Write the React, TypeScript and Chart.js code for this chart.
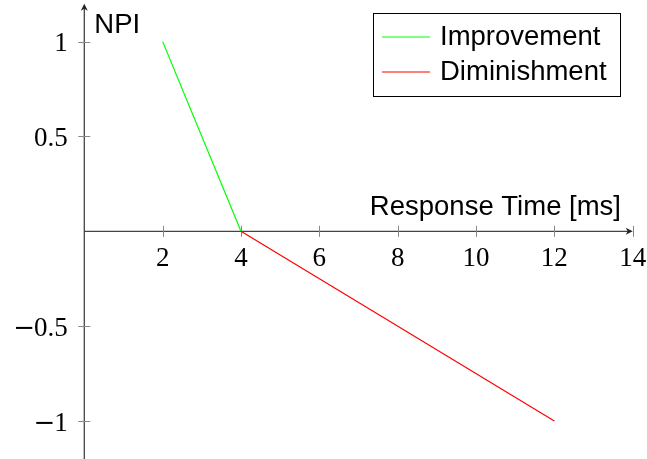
import React, { useEffect, useRef } from 'react';
import { Chart, registerables } from 'chart.js';

Chart.register(...registerables);

const improvementX = [2, 4];
const improvementY = [1, 0];
const diminishmentX = [4, 12];
const diminishmentY = [0, -1];
const seriesLabels = ['Improvement', 'Diminishment'];
const seriesColors = ['#00ff00', '#ff0000'];
const xTicks = [2, 4, 6, 8, 10, 12, 14];
const yTicks = [-1, -0.5, 0.5, 1];
const xRange = [0, 14];
const yRange = [-1.2, 1.2];
const xTitle = 'Response Time [ms]';
const yTitle = 'NPI';

const fmt = (v: number) => (v < 0 ? '\u2212' + String(Math.abs(v)) : String(v));

const TICK_FONT = '27px "Liberation Serif"';
const MINUS_FONT = '26px "DejaVu Serif"';
const SANS_FONT = '27.5px "Liberation Sans"';

const middleAxes = {
  id: 'middleAxes',
  beforeDatasetsDraw(chart: any) {
    const { ctx, scales } = chart;
    const x = scales.x;
    const y = scales.y;
    const x0 = x.getPixelForValue(0);
    const y0 = y.getPixelForValue(0);
    const xr = x.right;
    const yt = y.top;
    ctx.save();
    // axis lines
    ctx.strokeStyle = '#444';
    ctx.lineWidth = 1.3;
    ctx.beginPath();
    ctx.moveTo(x.left, y0);
    ctx.lineTo(xr - 4, y0);
    ctx.moveTo(x0, y.bottom + 2);
    ctx.lineTo(x0, yt + 4);
    ctx.stroke();
    // arrow heads
    ctx.fillStyle = '#222';
    ctx.beginPath();
    ctx.moveTo(xr, y0);
    ctx.lineTo(xr - 7, y0 - 3.5);
    ctx.lineTo(xr - 5, y0);
    ctx.lineTo(xr - 7, y0 + 3.5);
    ctx.closePath();
    ctx.fill();
    ctx.beginPath();
    ctx.moveTo(x0, yt);
    ctx.lineTo(x0 - 3.5, yt + 7);
    ctx.lineTo(x0, yt + 5);
    ctx.lineTo(x0 + 3.5, yt + 7);
    ctx.closePath();
    ctx.fill();
    // ticks
    ctx.strokeStyle = '#888';
    ctx.lineWidth = 1;
    ctx.beginPath();
    x.ticks.forEach((t: any) => {
      const px = Math.round(x.getPixelForValue(t.value)) + 0.5;
      ctx.moveTo(px, y0 - 5.5);
      ctx.lineTo(px, y0 + 5.5);
    });
    y.ticks.forEach((t: any) => {
      const py = Math.round(y.getPixelForValue(t.value)) + 0.5;
      ctx.moveTo(x0 - 6, py);
      ctx.lineTo(x0 + 6, py);
    });
    ctx.stroke();
    // tick labels
    ctx.fillStyle = '#000';
    ctx.font = TICK_FONT;
    ctx.textBaseline = 'alphabetic';
    ctx.textAlign = 'center';
    x.ticks.forEach((t: any) => {
      ctx.fillText(t.label, x.getPixelForValue(t.value), y0 + 34.5);
    });
    y.ticks.forEach((t: any) => {
      const label: string = t.label;
      const py = y.getPixelForValue(t.value) + 9.5;
      const right = x0 - 16.5;
      const neg = label.startsWith('\u2212');
      const body = neg ? label.slice(1) : label;
      ctx.font = TICK_FONT;
      ctx.textAlign = 'right';
      ctx.fillText(body, right, py);
      if (neg) {
        const w = ctx.measureText(body).width;
        ctx.font = MINUS_FONT;
        ctx.fillText('\u2212', right - w + 1, py);
      }
    });
    // axis titles
    ctx.font = SANS_FONT;
    ctx.textAlign = 'left';
    ctx.fillText(yTitle, x0 + 10, 33);
    ctx.textAlign = 'right';
    ctx.fillText(xTitle, 621, 215);
    ctx.restore();
  },
  afterDraw(chart: any) {
    const { ctx } = chart;
    ctx.save();
    ctx.strokeStyle = '#000';
    ctx.lineWidth = 1;
    ctx.fillStyle = '#fff';
    ctx.fillRect(373.5, 13.5, 247, 83);
    ctx.strokeRect(373.5, 13.5, 247, 83);
    ctx.font = SANS_FONT;
    ctx.textAlign = 'left';
    ctx.textBaseline = 'alphabetic';
    chart.data.datasets.forEach((ds: any, i: number) => {
      const ly = 37 + 35 * i;
      ctx.strokeStyle = ds.borderColor;
      ctx.lineWidth = 1.2;
      ctx.beginPath();
      ctx.moveTo(382, ly);
      ctx.lineTo(430, ly);
      ctx.stroke();
      ctx.fillStyle = '#000';
      ctx.fillText(ds.label, 440, 44.5 + 35.5 * i);
    });
    ctx.restore();
  },
};

export default function App() {
  const ref = useRef<HTMLCanvasElement | null>(null);
  useEffect(() => {
    document.body.style.margin = '0';
    if (!ref.current) return;
    const chart = new Chart(ref.current, {
      type: 'line',
      data: {
        datasets: [
          {
            label: seriesLabels[0],
            data: improvementX.map((v, i) => ({ x: v, y: improvementY[i] })),
            borderColor: seriesColors[0],
            borderWidth: 1.2,
            pointRadius: 0,
            fill: false,
            tension: 0,
          },
          {
            label: seriesLabels[1],
            data: diminishmentX.map((v, i) => ({ x: v, y: diminishmentY[i] })),
            borderColor: seriesColors[1],
            borderWidth: 1.2,
            pointRadius: 0,
            fill: false,
            tension: 0,
          },
        ],
      },
      options: {
        animation: false,
        responsive: false,
        devicePixelRatio: 1,
        layout: { padding: { left: 84.3, right: 14.3, top: 3.7, bottom: 0 } },
        plugins: { legend: { display: false }, tooltip: { enabled: false } },
        scales: {
          x: {
            type: 'linear',
            min: xRange[0],
            max: xRange[1],
            display: false,
            afterBuildTicks: (s: any) => {
              s.ticks = xTicks.map((v) => ({ value: v }));
            },
            ticks: { callback: (v: any) => fmt(Number(v)) },
          },
          y: {
            type: 'linear',
            min: yRange[0],
            max: yRange[1],
            display: false,
            afterBuildTicks: (s: any) => {
              s.ticks = yTicks.map((v) => ({ value: v }));
            },
            ticks: { callback: (v: any) => fmt(Number(v)) },
          },
        },
      } as any,
      plugins: [middleAxes],
    });
    return () => chart.destroy();
  }, []);
  return (
    <div style={{ width: 647, height: 459 }}>
      <canvas ref={ref} width={647} height={459} />
    </div>
  );
}
